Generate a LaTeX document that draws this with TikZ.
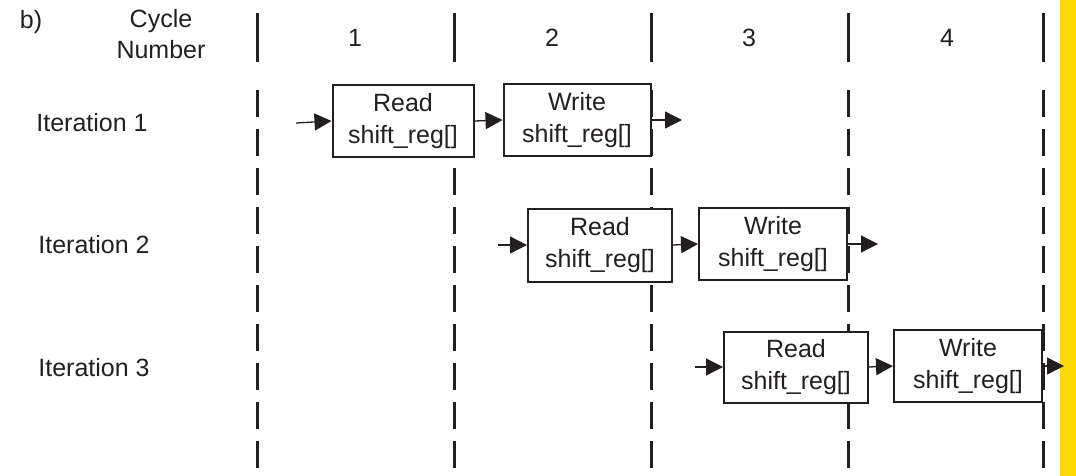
\documentclass[tikz,border=0pt]{standalone}
\usepackage{fontspec}
\setmainfont{Liberation Sans}
\usetikzlibrary{arrows.meta}
\definecolor{ink}{RGB}{35,31,32}
\definecolor{barcolor}{RGB}{255,218,0}
\begin{document}
\begin{tikzpicture}[x=1pt,y=-1pt,
  txt/.style={text=ink,font=\fontsize{25}{31}\selectfont,inner sep=0pt},
  opbox/.style={draw=ink,line width=2pt,fill=white,align=center,text=ink,
    font=\fontsize{25}{32}\selectfont,inner sep=0pt},
  headline/.style={draw=ink,line width=3pt},
  cycline/.style={draw=ink,line width=3pt,dash pattern=on 27pt off 12pt},
  flow/.style={draw=ink,line width=1.3pt,-{Triangle[length=17pt,width=17pt]}}]
\useasboundingbox (0,0) rectangle (1076,476);
% header
\node[txt] (lb) at (31,22) {b)};
\node[txt,align=center] (cn) at (161,34) {Cycle\\Number};
\node[txt] (c1) at (355,38) {1};
\node[txt] (c2) at (552,38) {2};
\node[txt] (c3) at (749,38) {3};
\node[txt] (c4) at (947,38) {4};
% cycle separators
\foreach \n/\x in {a/257,b/454,c/651,d/848,e/1043}{
  \coordinate (h\n t) at (\x,13);
  \coordinate (h\n b) at (\x,62);
  \coordinate (d\n t) at (\x,90);
  \coordinate (d\n b) at (\x,476);
  \draw[headline] (h\n t) -- (h\n b);
  \draw[cycline] (d\n t) -- (d\n b);
}
% iteration labels
\node[txt] (it1) at (92,123) {Iteration 1};
\node[txt] (it2) at (94,245) {Iteration 2};
\node[txt] (it3) at (94,368) {Iteration 3};
% boxes
\node[opbox,minimum width=141pt,minimum height=72pt] (r1) at (403,121) {Read\\shift\_reg[]};
\node[opbox,minimum width=147pt,minimum height=72pt] (w1) at (577,120) {Write\\shift\_reg[]};
\node[opbox,minimum width=144pt,minimum height=73pt] (r2) at (600,245) {Read\\shift\_reg[]};
\node[opbox,minimum width=148pt,minimum height=72pt] (w2) at (773,244) {Write\\shift\_reg[]};
\node[opbox,minimum width=144pt,minimum height=71pt] (r3) at (796,367) {Read\\shift\_reg[]};
\node[opbox,minimum width=148pt,minimum height=72pt] (w3) at (968,366) {Write\\shift\_reg[]};
% yellow edge bar
\fill[barcolor] (1060,0) rectangle (1076,476);
% flow arrows
\coordinate (i1) at (296,123);
\coordinate (o1) at (682,120);
\coordinate (i2) at (498,245);
\coordinate (o2) at (878,244);
\coordinate (i3) at (695,367);
\coordinate (o3) at (1064,366);
\draw[flow] (i1) -- (r1.west);
\draw[flow] (r1.east) -- (w1.west);
\draw[flow] (w1.east) -- (o1);
\draw[flow] (i2) -- (r2.west);
\draw[flow] (r2.east) -- (w2.west);
\draw[flow] (w2.east) -- (o2);
\draw[flow] (i3) -- (r3.west);
\draw[flow] (r3.east) -- (w3.west);
\draw[flow] (w3.east) -- (o3);
\end{tikzpicture}
\end{document}
